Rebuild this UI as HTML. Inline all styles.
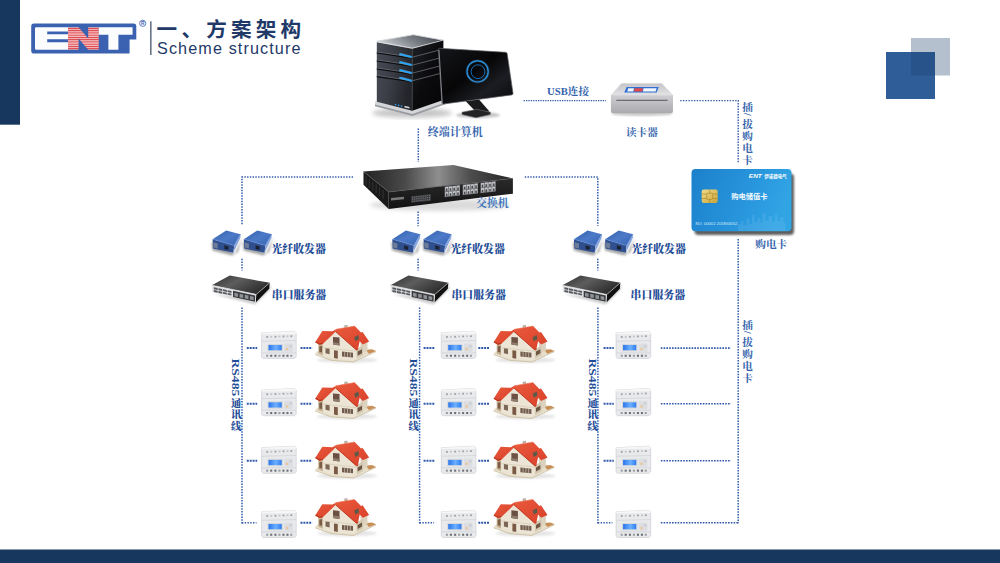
<!DOCTYPE html>
<html lang="zh">
<head>
<meta charset="utf-8">
<title>Scheme structure</title>
<style>
html,body{margin:0;padding:0;background:#fff;}
body{width:1000px;height:563px;overflow:hidden;font-family:"Liberation Sans",sans-serif;}
svg{display:block;}
</style>
</head>
<body>
<svg width="1000" height="563" viewBox="0 0 1000 563">
<defs>
<pattern id="stripes" x="0" y="27.25" width="4" height="2.25" patternUnits="userSpaceOnUse"><rect width="4" height="2.25" fill="#fdeeee"/><rect y="0.55" width="4" height="1.25" fill="#dc3a40"/></pattern>
<filter id="blur1" x="-20%" y="-20%" width="140%" height="140%"><feGaussianBlur stdDeviation="1.2"/></filter>
<filter id="blur2" x="-20%" y="-20%" width="140%" height="140%"><feGaussianBlur stdDeviation="2"/></filter>
<filter id="soft" x="-5%" y="-5%" width="110%" height="110%"><feGaussianBlur stdDeviation="0.35"/></filter>
<linearGradient id="twFront" x1="0" y1="0" x2="1" y2="0.3"><stop offset="0" stop-color="#4a4d56"/><stop offset="0.5" stop-color="#3a3d45"/><stop offset="1" stop-color="#23252a"/></linearGradient>
<linearGradient id="twSide" x1="0" y1="0" x2="1" y2="1"><stop offset="0" stop-color="#202227"/><stop offset="0.5" stop-color="#0b0b0d"/><stop offset="1" stop-color="#050506"/></linearGradient>
<linearGradient id="twTop" x1="0" y1="0.3" x2="1" y2="0"><stop offset="0" stop-color="#c6cacf"/><stop offset="0.45" stop-color="#7b8087"/><stop offset="1" stop-color="#3a3d42"/></linearGradient>
<linearGradient id="monG" x1="0" y1="0" x2="1" y2="1"><stop offset="0" stop-color="#15161a"/><stop offset="0.45" stop-color="#060607"/><stop offset="0.7" stop-color="#1c1d22"/><stop offset="1" stop-color="#08080a"/></linearGradient>
<linearGradient id="swTop" x1="0" y1="0" x2="1" y2="0"><stop offset="0" stop-color="#222223"/><stop offset="0.28" stop-color="#4a4a4b"/><stop offset="0.5" stop-color="#8e8e8f"/><stop offset="0.72" stop-color="#4c4c4d"/><stop offset="1" stop-color="#252526"/></linearGradient>
<linearGradient id="swFront" x1="0" y1="0" x2="0" y2="1"><stop offset="0" stop-color="#2a2a2b"/><stop offset="1" stop-color="#131314"/></linearGradient>
<linearGradient id="cardG" x1="0" y1="0" x2="1" y2="0.25"><stop offset="0" stop-color="#1c80cb"/><stop offset="0.6" stop-color="#2794dc"/><stop offset="1" stop-color="#31a4e4"/></linearGradient>
<linearGradient id="chipG" x1="0" y1="0" x2="1" y2="1"><stop offset="0" stop-color="#f0dc8a"/><stop offset="1" stop-color="#c9a238"/></linearGradient>
<linearGradient id="rdFront" x1="0" y1="0" x2="0" y2="1"><stop offset="0" stop-color="#cfcfd3"/><stop offset="1" stop-color="#a9a9ae"/></linearGradient>
<linearGradient id="rdTop" x1="0" y1="0" x2="0" y2="1"><stop offset="0" stop-color="#c4c4c8"/><stop offset="1" stop-color="#e4e4e7"/></linearGradient>
<linearGradient id="roofG" x1="0" y1="0" x2="1" y2="1"><stop offset="0" stop-color="#ea5a3c"/><stop offset="1" stop-color="#d8402a"/></linearGradient>
<linearGradient id="fbTop" x1="0" y1="0" x2="1" y2="1"><stop offset="0" stop-color="#345fa9"/><stop offset="0.5" stop-color="#4c7ac8"/><stop offset="1" stop-color="#3a66b3"/></linearGradient>
<linearGradient id="ssTop" x1="0" y1="0" x2="1" y2="0.6"><stop offset="0" stop-color="#2d2d2e"/><stop offset="0.45" stop-color="#5d5d5e"/><stop offset="1" stop-color="#2b2b2c"/></linearGradient>
<linearGradient id="lcdG" x1="0" y1="0" x2="1" y2="0"><stop offset="0" stop-color="#2a74ea"/><stop offset="0.55" stop-color="#6cb0ff"/><stop offset="1" stop-color="#2f7df0"/></linearGradient>

<g id="house"><ellipse cx="42" cy="42" rx="30" ry="3" fill="#999" opacity="0.25" filter="url(#blur1)"/><polygon points="10.2,36.0 26.0,41.8 48.5,43.6 71.0,33.0 63.0,30.5 12.0,33.5" fill="#e7dec9" /><polygon points="10.2,36.0 26.0,41.8 48.5,43.6 71.0,33.0 71.0,33.9 48.5,44.6 26.0,42.8 10.2,37.0" fill="#cfc3a8" /><polygon points="61.0,32.2 67.0,31.2 71.0,33.0 64.0,35.8" fill="#c78f56" /><polygon points="55.5,24.0 62.5,21.5 62.5,32.5 55.5,36.0" fill="#ddd2be" /><polygon points="13.3,25.5 18.0,24.0 18.0,37.4 13.3,35.4" fill="#c4b193" /><polygon points="14.3,28.4 17.0,27.8 17.0,34.6 14.3,34.0" fill="#7b5d47" /><polygon points="51.5,31.0 58.0,27.6 58.0,37.2 51.5,40.8" fill="#d3c8b2" /><polygon points="52.6,33.6 57.0,31.2 57.0,35.2 52.6,37.7" fill="#6e5645" /><polygon points="17.8,24.5 30.6,13.2 51.5,31.5 51.5,40.8 47.5,42.8 26.0,40.8 17.8,37.4" fill="#ece4d4" /><path d="M17.8 29.6 L51.5 33.2" stroke="#d2c6ae" stroke-width="0.6"/><polygon points="28.0,19.0 34.5,19.6 34.5,27.6 28.0,26.6" fill="#6a5143" /><polygon points="28.0,24.2 34.5,25.0 34.5,27.6 28.0,26.6" fill="#8e7b6c" /><polygon points="29.0,32.3 32.8,32.8 32.8,40.7 29.0,40.0" fill="#7a5a44" /><polygon points="20.5,30.2 24.6,30.8 24.6,36.2 20.5,35.2" fill="#7c6756" /><polygon points="37.0,33.6 48.0,34.8 48.0,39.4 37.0,38.4" fill="#6f5a4c" /><path d="M39.7 33.9 v4.7 M42.5 34.2 v4.7 M45.3 34.5 v4.7" stroke="#e6dccb" stroke-width="0.6"/><polygon points="39.3,7.2 42.6,6.9 42.6,9.4 39.3,10.0" fill="#b9b1a8" /><polygon points="10.2,24.2 17.3,12.9 27.5,13.3 30.6,11.4 30.8,13.4 18.0,25.8 14.6,26.8" fill="url(#roofG)" /><polygon points="10.2,24.2 14.6,26.8 18.0,25.8 17.4,24.6 14.4,25.4 11.0,23.2" fill="#b8361f" /><polygon points="30.6,11.3 49.7,8.1 56.0,14.6 57.6,14.0 64.1,23.6 57.8,26.4 54.7,23.2 52.9,31.6 51.2,31.9 30.4,13.5" fill="url(#roofG)" /><polygon points="49.2,19.2 53.4,17.0 54.0,21.2 50.4,23.2" fill="#5e5a4a" /><path d="M30.5 13.4 L51.4 31.9 L53 31.5" fill="none" stroke="#b8361f" stroke-width="0.9"/><path d="M30.6 11.4 L49.7 8.1" fill="none" stroke="#f07a5e" stroke-width="0.6"/></g>
<g id="meter"><g transform="translate(38.9 22.7) scale(1.055 1.09) translate(-38.7 -22.7)"><polygon points="22.3,11.6 53.3,10.2 55.1,11.6 55.1,33.6 53.6,35.1 23.6,35.1 22.3,33.9" fill="#e9eaec" stroke="#c9ccd0" stroke-width="0.6"/><polygon points="22.3,11.6 53.3,10.2 55.1,11.6 55.1,12.6 22.3,12.9" fill="#f6f6f7" /><path d="M22.6 19.4 L55 18.8 M22.6 30 L55 30" stroke="#cfd2d6" stroke-width="0.7"/><rect x="26.8" y="14.6" width="1.7" height="1.6" fill="#9a9ea3"/><rect x="26.6" y="31.7" width="2" height="1.9" fill="#9a9da1"/><rect x="30.6" y="14.5" width="1.7" height="1.6" fill="#bfc2c6"/><rect x="30.4" y="31.7" width="2" height="1.9" fill="#6d7074"/><rect x="34.6" y="14.4" width="1.7" height="1.6" fill="#9a9ea3"/><rect x="34.4" y="31.7" width="2" height="1.9" fill="#6d7074"/><rect x="38.4" y="14.2" width="1.7" height="1.6" fill="#bfc2c6"/><rect x="38.2" y="31.7" width="2" height="1.9" fill="#9a9da1"/><rect x="42.2" y="14.1" width="1.7" height="1.6" fill="#9a9ea3"/><rect x="42.0" y="31.7" width="2" height="1.9" fill="#6d7074"/><rect x="46.0" y="14.0" width="1.7" height="1.6" fill="#bfc2c6"/><rect x="45.8" y="31.7" width="2" height="1.9" fill="#6d7074"/><rect x="49.6" y="13.9" width="1.7" height="1.6" fill="#9a9ea3"/><rect x="49.4" y="31.7" width="2" height="1.9" fill="#9a9da1"/><rect x="27.9" y="21.8" width="14.6" height="6.8" fill="#d4d7db"/><rect x="28.9" y="22.8" width="12.5" height="4.8" fill="url(#lcdG)"/><rect x="43.6" y="21.4" width="8.4" height="7.6" rx="1" fill="#dcdee2"/><circle cx="46.4" cy="26.4" r="1.4" fill="#e9c9a4"/><circle cx="49.8" cy="24" r="1.2" fill="#c9ccd2"/></g></g>
<g id="fiber"><polygon points="6.5,20.0 30.0,31.5 37.0,15.0 33.0,30.0 27.0,33.5 7.5,28.5" fill="#555" opacity="0.55" filter="url(#blur1)"/><polygon points="7.6,17.2 21.2,8.4 35.6,12.2 29.2,23.6" fill="url(#fbTop)" /><polygon points="7.6,17.2 29.2,23.6 28.4,30.8 8.0,26.4" fill="#2f4f8f" /><polygon points="29.2,23.6 35.6,12.2 35.3,16.0 28.4,30.8" fill="#88a6dc" /><polygon points="8.4,20.3 12.8,21.6 12.6,26.6 8.4,25.4" fill="#6d7c98" /><polygon points="19.4,23.2 23.6,24.4 23.4,28.0 19.3,26.9" fill="#1c2333" /><path d="M7.6 17.2 L29.2 23.6 L35.6 12.2" fill="none" stroke="#6d94dc" stroke-width="0.5"/></g>
<g id="sserver"><polygon points="8.0,26.0 50.0,36.5 65.5,21.0 66.0,17.0 50.0,30.0" fill="#666" opacity="0.35" filter="url(#blur1)"/><polygon points="6.8,17.2 24.8,7.6 64.8,14.8 51.2,26.4" fill="url(#ssTop)" /><polygon points="51.2,26.4 64.8,14.8 64.2,20.8 50.8,34.4" fill="#121213" /><polygon points="6.8,17.2 51.2,26.4 50.8,34.4 7.2,24.0" fill="#e4e5e7" /><polygon points="8.8,19.3 12.7,20.1 12.7,22.0 8.8,21.2" fill="#55585c" /><polygon points="13.4,20.3 17.3,21.1 17.3,23.0 13.4,22.2" fill="#55585c" /><polygon points="18.0,21.2 21.9,22.0 21.9,23.9 18.0,23.1" fill="#55585c" /><polygon points="22.6,22.2 26.5,23.0 26.5,24.9 22.6,24.1" fill="#55585c" /><polygon points="8.8,22.0 12.7,22.8 12.7,24.7 8.8,23.9" fill="#55585c" /><polygon points="13.4,23.0 17.3,23.8 17.3,25.7 13.4,24.9" fill="#55585c" /><polygon points="18.0,23.9 21.9,24.7 21.9,26.6 18.0,25.8" fill="#55585c" /><polygon points="22.6,24.9 26.5,25.7 26.5,27.6 22.6,26.8" fill="#55585c" /><polygon points="28.0,22.8 50.2,27.4 50.0,33.8 28.0,29.0" fill="#3a3b3e" /><polygon points="29.4,24.7 33.0,25.4 33.0,29.0 29.4,28.3" fill="#8d9094" /><polygon points="34.6,25.8 38.2,26.5 38.2,30.1 34.6,29.4" fill="#8d9094" /><polygon points="39.8,26.8 43.4,27.6 43.4,31.2 39.8,30.4" fill="#8d9094" /><polygon points="45.0,27.9 48.6,28.7 48.6,32.3 45.0,31.5" fill="#8d9094" /><path d="M6.8 17.2 L51.2 26.4 L64.8 14.8" fill="none" stroke="#cfd0d2" stroke-width="0.6"/></g>
</defs>
<rect x="0" y="0" width="20" height="124.7" fill="#18375e"/>
<rect x="0" y="549.5" width="1000" height="13.5" fill="#18375e"/>
<rect x="911" y="38" width="39" height="37.5" fill="#b4c0ce"/>
<rect x="886" y="52" width="49" height="47" fill="#2f5d97"/>
<rect x="911" y="52" width="24" height="23.5" fill="#28528a"/>
<path d="M31.2 26.3 a2.8 2.8 0 0 1 2.8 -2.8 H133.6 a2.7 2.7 0 0 1 2.7 2.7 V39.6 H129.6 V53.6 H34 a2.8 2.8 0 0 1 -2.8 -2.8 Z" fill="#3b62b1"/>
<path d="M35 28.4 a1.2 1.2 0 0 1 1.2 -1.2 H68 V31.4 H47.2 V34.3 H68 V39.2 H47.2 V42.3 H68 V49.8 H36.4 a1.4 1.4 0 0 1 -1.4 -1.4 Z" fill="#fbfcfe"/>
<path d="M68 27.2 H78.6 L88.2 38.6 V27.2 H98.8 V49.8 H88.2 L78.6 38.4 V49.8 H68 Z" fill="url(#stripes)"/>
<path d="M98.8 27.2 H132.6 V34.8 H118.4 V49.8 H108.4 V34.8 H98.8 Z" fill="#fbfcfe"/>
<circle cx="142.7" cy="23.3" r="3.1" fill="none" stroke="#3b62b1" stroke-width="0.8"/>
<text x="142.75" y="25.1" text-anchor="middle" font-family="Liberation Sans, sans-serif" font-weight="bold" font-size="4.8" fill="#3b62b1">R</text>
<rect x="150.2" y="21.3" width="1.3" height="33.7" fill="#46546c"/>
<g aria-label="一、方案架构"><text x="156.6" y="36.6" font-family="'Liberation Sans','Noto Sans CJK SC',sans-serif" font-weight="bold" font-size="20.6" letter-spacing="4.2" fill="#1f3a68">一、方案架构</text></g>
<text x="157" y="53.6" font-family="Liberation Sans, sans-serif" font-size="16.2" fill="#1f3a68" textLength="143.5" lengthAdjust="spacing">Scheme structure</text>
<path d="M418.3 128.5 L418.3 162.0" fill="none" stroke="#3059a9" stroke-width="1.50" stroke-dasharray="1.4 1.35"/>
<path d="M523.6 100.6 L606.0 100.6" fill="none" stroke="#3059a9" stroke-width="1.20" stroke-dasharray="1.3 1.1"/>
<path d="M680.2 100.6 L738.2 100.6 L738.2 163.5" fill="none" stroke="#3059a9" stroke-width="1.40" stroke-dasharray="1.4 1.35"/>
<path d="M738.2 239.0 L738.2 523.3" fill="none" stroke="#3059a9" stroke-width="1.50" stroke-dasharray="1.4 1.35"/>
<path d="M353.0 177.0 L242.0 177.0 L242.0 225.5" fill="none" stroke="#3059a9" stroke-width="1.50" stroke-dasharray="1.4 1.35"/>
<path d="M524.8 177.0 L597.8 177.0 L597.8 225.8" fill="none" stroke="#3059a9" stroke-width="1.50" stroke-dasharray="1.4 1.35"/>
<path d="M418.1 211.5 L418.1 226.3" fill="none" stroke="#3059a9" stroke-width="1.50" stroke-dasharray="1.4 1.35"/>
<path d="M242.0 258.8 L242.0 270.6" fill="none" stroke="#3059a9" stroke-width="1.50" stroke-dasharray="1.4 1.35"/>
<path d="M242.0 307.6 L242.0 523.5" fill="none" stroke="#3059a9" stroke-width="1.50" stroke-dasharray="1.4 1.35"/>
<path d="M418.1 258.8 L418.1 270.6" fill="none" stroke="#3059a9" stroke-width="1.50" stroke-dasharray="1.4 1.35"/>
<path d="M419.6 307.6 L419.6 523.5" fill="none" stroke="#3059a9" stroke-width="1.50" stroke-dasharray="1.4 1.35"/>
<path d="M597.8 258.8 L597.8 270.6" fill="none" stroke="#3059a9" stroke-width="1.50" stroke-dasharray="1.4 1.35"/>
<path d="M597.9 307.6 L597.9 523.5" fill="none" stroke="#3059a9" stroke-width="1.50" stroke-dasharray="1.4 1.35"/>
<path d="M246.8 348.1 L257.2 348.1" fill="none" stroke="#3059a9" stroke-width="2.00" stroke-dasharray="2.0 0.9"/>
<path d="M423.6 348.1 L434.3 348.1" fill="none" stroke="#3059a9" stroke-width="2.00" stroke-dasharray="2.0 0.9"/>
<path d="M603.6 348.1 L613.8 348.1" fill="none" stroke="#3059a9" stroke-width="2.00" stroke-dasharray="2.0 0.9"/>
<path d="M300.5 348.1 L312.2 348.1" fill="none" stroke="#3059a9" stroke-width="2.00" stroke-dasharray="2.0 0.9"/>
<path d="M478.3 348.1 L489.6 348.1" fill="none" stroke="#3059a9" stroke-width="2.00" stroke-dasharray="2.0 0.9"/>
<path d="M660.8 348.1 L731.0 348.1" fill="none" stroke="#3059a9" stroke-width="1.60" stroke-dasharray="1.6 1.2"/>
<path d="M246.8 403.8 L257.2 403.8" fill="none" stroke="#3059a9" stroke-width="2.00" stroke-dasharray="2.0 0.9"/>
<path d="M423.6 403.8 L434.3 403.8" fill="none" stroke="#3059a9" stroke-width="2.00" stroke-dasharray="2.0 0.9"/>
<path d="M603.6 403.8 L613.8 403.8" fill="none" stroke="#3059a9" stroke-width="2.00" stroke-dasharray="2.0 0.9"/>
<path d="M300.5 403.8 L312.2 403.8" fill="none" stroke="#3059a9" stroke-width="2.00" stroke-dasharray="2.0 0.9"/>
<path d="M478.3 403.8 L489.6 403.8" fill="none" stroke="#3059a9" stroke-width="2.00" stroke-dasharray="2.0 0.9"/>
<path d="M660.8 403.8 L731.0 403.8" fill="none" stroke="#3059a9" stroke-width="1.60" stroke-dasharray="1.6 1.2"/>
<path d="M246.8 460.8 L257.2 460.8" fill="none" stroke="#3059a9" stroke-width="2.00" stroke-dasharray="2.0 0.9"/>
<path d="M423.6 460.8 L434.3 460.8" fill="none" stroke="#3059a9" stroke-width="2.00" stroke-dasharray="2.0 0.9"/>
<path d="M603.6 460.8 L613.8 460.8" fill="none" stroke="#3059a9" stroke-width="2.00" stroke-dasharray="2.0 0.9"/>
<path d="M300.5 460.8 L312.2 460.8" fill="none" stroke="#3059a9" stroke-width="2.00" stroke-dasharray="2.0 0.9"/>
<path d="M478.3 460.8 L489.6 460.8" fill="none" stroke="#3059a9" stroke-width="2.00" stroke-dasharray="2.0 0.9"/>
<path d="M660.8 460.8 L731.0 460.8" fill="none" stroke="#3059a9" stroke-width="1.60" stroke-dasharray="1.6 1.2"/>
<path d="M300.5 522.8 L312.2 522.8" fill="none" stroke="#3059a9" stroke-width="2.00" stroke-dasharray="2.0 0.9"/>
<path d="M478.3 522.8 L489.6 522.8" fill="none" stroke="#3059a9" stroke-width="2.00" stroke-dasharray="2.0 0.9"/>
<path d="M660.8 522.8 L738.2 522.8" fill="none" stroke="#3059a9" stroke-width="1.60" stroke-dasharray="1.6 1.2"/>
<path d="M242.0 522.8 L256.5 522.8" fill="none" stroke="#3059a9" stroke-width="1.60" stroke-dasharray="1.4 1.35"/>
<path d="M419.6 522.8 L434.1 522.8" fill="none" stroke="#3059a9" stroke-width="1.60" stroke-dasharray="1.4 1.35"/>
<path d="M597.9 522.8 L612.4 522.8" fill="none" stroke="#3059a9" stroke-width="1.60" stroke-dasharray="1.4 1.35"/>
<g id="computer"><ellipse cx="412" cy="113" rx="40" ry="5" fill="#9a9a9a" opacity="0.55" filter="url(#blur2)"/><ellipse cx="478" cy="115" rx="22" ry="3" fill="#8a8a8a" opacity="0.5" filter="url(#blur1)"/><polygon points="375.0,101.3 412.4,110.6 445.2,99.6 445.2,104.2 412.4,116.0 375.0,106.2" fill="#d3d5d9" /><polygon points="375.0,104.4 412.4,114.0 445.2,102.6 445.2,104.2 412.4,116.0 375.0,106.2" fill="#9a9ca2" /><polygon points="376.8,41.3 413.3,34.7 443.4,40.2 412.2,48.2" fill="url(#twTop)" stroke="#d2d5d9" stroke-width="0.9" stroke-linejoin="round"/><polygon points="376.8,42.2 412.2,48.8 412.2,110.8 376.8,101.8" fill="url(#twFront)" /><polygon points="412.2,48.8 443.4,40.6 443.4,100.0 412.2,110.8" fill="url(#twSide)" /><path d="M376.8 52.0 L412.2 57.2 L443.4 49.0" fill="none" stroke="#6a6d75" stroke-width="0.8"/><path d="M376.8 53.0 L412.2 58.2" fill="none" stroke="#08090a" stroke-width="1.1"/><path d="M399.3 54.0 L412.2 57.3" stroke="#7fd4ff" stroke-width="2.6" opacity="0.45" filter="url(#soft)"/><path d="M399.5 54.0 L412.2 57.3" stroke="#27a6ff" stroke-width="1.5"/><path d="M376.8 60.0 L412.2 65.2 L443.4 57.0" fill="none" stroke="#6a6d75" stroke-width="0.8"/><path d="M376.8 61.0 L412.2 66.2" fill="none" stroke="#08090a" stroke-width="1.1"/><path d="M399.3 62.0 L412.2 65.3" stroke="#7fd4ff" stroke-width="2.6" opacity="0.45" filter="url(#soft)"/><path d="M399.5 62.0 L412.2 65.3" stroke="#27a6ff" stroke-width="1.5"/><path d="M376.8 68.0 L412.2 73.2 L443.4 65.0" fill="none" stroke="#6a6d75" stroke-width="0.8"/><path d="M376.8 69.0 L412.2 74.2" fill="none" stroke="#08090a" stroke-width="1.1"/><path d="M399.3 70.0 L412.2 73.3" stroke="#7fd4ff" stroke-width="2.6" opacity="0.45" filter="url(#soft)"/><path d="M399.5 70.0 L412.2 73.3" stroke="#27a6ff" stroke-width="1.5"/><path d="M376.8 75.6 L412.2 80.8 L443.4 72.6" fill="none" stroke="#6a6d75" stroke-width="0.8"/><path d="M376.8 76.6 L412.2 81.8" fill="none" stroke="#08090a" stroke-width="1.1"/><path d="M399.3 77.6 L412.2 80.9" stroke="#7fd4ff" stroke-width="2.6" opacity="0.45" filter="url(#soft)"/><path d="M399.5 77.6 L412.2 80.9" stroke="#27a6ff" stroke-width="1.5"/><circle cx="395.6" cy="104.6" r="0.8" fill="#2ea0ff"/><circle cx="398.6" cy="105.4" r="0.8" fill="#2ea0ff"/><circle cx="401.6" cy="106.1" r="0.8" fill="#2ea0ff"/><polygon points="404.5,105.8 409.5,107.0 409.5,108.6 404.5,107.4" fill="#d8dadd" /><path d="M412.2 48.8 V110.8" stroke="#3a3d44" stroke-width="0.7"/><polygon points="465.5,101.0 479.0,99.5 489.5,111.5 477.5,113.5" fill="#1b1b1d" /><polygon points="462.0,112.2 477.0,109.3 490.5,112.3 490.3,114.6 476.0,117.8 462.0,114.5" fill="#232325" stroke="#6d6f73" stroke-width="0.6"/><path d="M439.6 48.3 L505.6 52.3 Q507 52.4 507.2 53.8 L513 93.2 Q513.2 94.7 511.7 94.9 L443.6 104 Q442 104.2 441.9 102.6 L438.3 49.8 Q438.2 48.2 439.6 48.3 Z" fill="url(#monG)" stroke="#5f6166" stroke-width="0.7"/><path d="M439 50 L442.3 103.6" stroke="#9a9da2" stroke-width="1" opacity="0.8"/><circle cx="477.6" cy="71.4" r="10.6" fill="none" stroke="#1d86da" stroke-width="1.15"/><circle cx="477.6" cy="71.4" r="10.6" fill="none" stroke="#5cc0ff" stroke-width="2.6" opacity="0.22" filter="url(#soft)"/><circle cx="478" cy="71.7" r="6.9" fill="none" stroke="#176fbd" stroke-width="0.95"/></g>
<g id="switch"><ellipse cx="440" cy="205" rx="70" ry="6" fill="#999" opacity="0.35" filter="url(#blur2)"/><polygon points="363.5,171.6 453.5,164.9 512.9,178.4 388.7,191.9" fill="url(#swTop)" /><polygon points="363.5,171.6 388.7,191.9 388.7,209.0 363.5,184.7" fill="#1a1a1b" /><polygon points="388.7,191.9 512.9,178.4 512.9,193.7 388.7,209.0" fill="url(#swFront)" /><path d="M363.5 171.6 L388.7 191.9 L512.9 178.4" fill="none" stroke="#5a5a5c" stroke-width="0.6"/><path d="M366.0 176.2 v9" stroke="#353536" stroke-width="0.9"/><path d="M369.4 178.9 v9" stroke="#353536" stroke-width="0.9"/><path d="M372.8 181.7 v9" stroke="#353536" stroke-width="0.9"/><path d="M376.2 184.4 v9" stroke="#353536" stroke-width="0.9"/><path d="M379.6 187.2 v9" stroke="#353536" stroke-width="0.9"/><path d="M383.0 189.9 v9" stroke="#353536" stroke-width="0.9"/><polygon points="444.6,186.6 460.0,184.9 460.0,195.5 444.6,197.2" fill="#6e7073" /><polygon points="445.2,187.1 448.2,186.8 448.2,191.0 445.2,191.3" fill="#c4c6c9" /><polygon points="445.9,188.6 447.5,188.5 447.5,191.1 445.9,191.2" fill="#4a4c50" /><polygon points="449.0,186.7 452.0,186.4 452.0,190.6 449.0,190.9" fill="#c4c6c9" /><polygon points="449.7,188.2 451.3,188.1 451.3,190.7 449.7,190.8" fill="#4a4c50" /><polygon points="452.7,186.3 455.7,186.0 455.7,190.2 452.7,190.5" fill="#c4c6c9" /><polygon points="453.4,187.8 455.0,187.7 455.0,190.3 453.4,190.4" fill="#4a4c50" /><polygon points="456.5,185.9 459.5,185.6 459.5,189.8 456.5,190.1" fill="#c4c6c9" /><polygon points="457.2,187.4 458.8,187.3 458.8,189.9 457.2,190.0" fill="#4a4c50" /><polygon points="445.2,192.2 448.2,191.9 448.2,196.1 445.2,196.4" fill="#c4c6c9" /><polygon points="445.9,193.7 447.5,193.6 447.5,196.2 445.9,196.3" fill="#4a4c50" /><polygon points="449.0,191.8 452.0,191.5 452.0,195.7 449.0,196.0" fill="#c4c6c9" /><polygon points="449.7,193.3 451.3,193.2 451.3,195.8 449.7,195.9" fill="#4a4c50" /><polygon points="452.7,191.4 455.7,191.1 455.7,195.3 452.7,195.6" fill="#c4c6c9" /><polygon points="453.4,192.9 455.0,192.8 455.0,195.4 453.4,195.5" fill="#4a4c50" /><polygon points="456.5,191.0 459.5,190.7 459.5,194.9 456.5,195.2" fill="#c4c6c9" /><polygon points="457.2,192.5 458.8,192.4 458.8,195.0 457.2,195.1" fill="#4a4c50" /><polygon points="462.6,184.6 478.0,183.0 478.0,193.6 462.6,195.2" fill="#6e7073" /><polygon points="463.2,185.2 466.2,184.8 466.2,189.0 463.2,189.4" fill="#c4c6c9" /><polygon points="463.9,186.7 465.5,186.5 465.5,189.1 463.9,189.3" fill="#4a4c50" /><polygon points="467.0,184.8 470.0,184.4 470.0,188.6 467.0,189.0" fill="#c4c6c9" /><polygon points="467.7,186.3 469.3,186.1 469.3,188.7 467.7,188.9" fill="#4a4c50" /><polygon points="470.7,184.4 473.7,184.0 473.7,188.2 470.7,188.6" fill="#c4c6c9" /><polygon points="471.4,185.9 473.0,185.7 473.0,188.3 471.4,188.5" fill="#4a4c50" /><polygon points="474.5,183.9 477.5,183.6 477.5,187.8 474.5,188.1" fill="#c4c6c9" /><polygon points="475.2,185.5 476.8,185.3 476.8,187.9 475.2,188.1" fill="#4a4c50" /><polygon points="463.2,190.3 466.2,189.9 466.2,194.1 463.2,194.5" fill="#c4c6c9" /><polygon points="463.9,191.8 465.5,191.6 465.5,194.2 463.9,194.4" fill="#4a4c50" /><polygon points="467.0,189.9 470.0,189.5 470.0,193.7 467.0,194.1" fill="#c4c6c9" /><polygon points="467.7,191.4 469.3,191.2 469.3,193.8 467.7,194.0" fill="#4a4c50" /><polygon points="470.7,189.5 473.7,189.1 473.7,193.3 470.7,193.7" fill="#c4c6c9" /><polygon points="471.4,191.0 473.0,190.8 473.0,193.4 471.4,193.6" fill="#4a4c50" /><polygon points="474.5,189.0 477.5,188.7 477.5,192.9 474.5,193.2" fill="#c4c6c9" /><polygon points="475.2,190.6 476.8,190.4 476.8,193.0 475.2,193.2" fill="#4a4c50" /><polygon points="480.4,182.7 495.8,181.0 495.8,191.6 480.4,193.3" fill="#6e7073" /><polygon points="481.0,183.2 484.0,182.9 484.0,187.1 481.0,187.4" fill="#c4c6c9" /><polygon points="481.7,184.8 483.3,184.6 483.3,187.2 481.7,187.4" fill="#4a4c50" /><polygon points="484.8,182.8 487.8,182.5 487.8,186.7 484.8,187.0" fill="#c4c6c9" /><polygon points="485.4,184.3 487.1,184.2 487.1,186.8 485.4,186.9" fill="#4a4c50" /><polygon points="488.5,182.4 491.5,182.1 491.5,186.3 488.5,186.6" fill="#c4c6c9" /><polygon points="489.2,183.9 490.8,183.8 490.8,186.4 489.2,186.5" fill="#4a4c50" /><polygon points="492.2,182.0 495.2,181.7 495.2,185.9 492.2,186.2" fill="#c4c6c9" /><polygon points="492.9,183.5 494.6,183.4 494.6,186.0 492.9,186.1" fill="#4a4c50" /><polygon points="481.0,188.3 484.0,188.0 484.0,192.2 481.0,192.5" fill="#c4c6c9" /><polygon points="481.7,189.9 483.3,189.7 483.3,192.3 481.7,192.5" fill="#4a4c50" /><polygon points="484.8,187.9 487.8,187.6 487.8,191.8 484.8,192.1" fill="#c4c6c9" /><polygon points="485.4,189.4 487.1,189.3 487.1,191.9 485.4,192.0" fill="#4a4c50" /><polygon points="488.5,187.5 491.5,187.2 491.5,191.4 488.5,191.7" fill="#c4c6c9" /><polygon points="489.2,189.0 490.8,188.9 490.8,191.5 489.2,191.6" fill="#4a4c50" /><polygon points="492.2,187.1 495.2,186.8 495.2,191.0 492.2,191.3" fill="#c4c6c9" /><polygon points="492.9,188.6 494.6,188.5 494.6,191.1 492.9,191.2" fill="#4a4c50" /><polygon points="391.0,198.1 404.0,196.7 404.0,199.2 391.0,200.6" fill="#c8c8ca" opacity="0.55"/><polygon points="411.2,196.2 431.0,194.1 431.0,200.7 411.2,202.8" fill="#3b3d40" /><path d="M412 197.3 L430.3 195.3" stroke="#8c8e91" stroke-width="0.7" stroke-dasharray="1 0.9"/><path d="M412 199.4 L430.3 197.4" stroke="#8c8e91" stroke-width="0.7" stroke-dasharray="1 0.9"/><path d="M412 201.5 L430.3 199.5" stroke="#8c8e91" stroke-width="0.7" stroke-dasharray="1 0.9"/></g>
<g id="reader"><ellipse cx="642" cy="113.5" rx="31" ry="2.5" fill="#888" opacity="0.45" filter="url(#blur1)"/><polygon points="621.5,83.4 661.8,83.4 673.0,95.4 610.9,95.4" fill="url(#rdTop)" stroke="#d9d9dc" stroke-width="0.6"/><path d="M610.9 95.2 H673 V110.8 Q673 113.3 670.5 113.3 H613.4 Q610.9 113.3 610.9 110.8 Z" fill="url(#rdFront)"/><path d="M616.3 100.3 H667.6" stroke="#4c4c50" stroke-width="0.9"/><polygon points="626.6,87.0 658.8,87.0 656.6,92.6 624.2,92.6" fill="#2f6fd6" /><polygon points="628.2,88.2 634.0,88.2 633.3,91.4 627.3,91.4" fill="#f3f6fb" /><polygon points="634.6,88.2 643.0,88.2 642.3,91.4 633.9,91.4" fill="#e24a4a" /><polygon points="643.6,88.2 656.6,88.2 655.6,91.4 642.9,91.4" fill="#f3f6fb" /></g>
<g id="iccard"><rect x="694.5" y="173.5" width="99.5" height="61.5" rx="4" fill="#1a1a1a" opacity="0.7" filter="url(#blur1)"/><rect x="691.5" y="169" width="100" height="62.2" rx="4" fill="url(#cardG)"/><path d="M738 231 V224 h3 v-3 h2.5 v4 h3 v-6 h3 v5 h2.5 v-9 h2.5 v7 h3 v-4 h3 v5 h2 v-10 h3 v8 h3 v-5 h3.5 v6 h3 v-8 h2.5 v7 h3 v-4 h3 v6 h2 V231 Z" fill="#7cc6f2" opacity="0.22"/><rect x="701.7" y="189.5" width="16" height="13.6" rx="2" fill="url(#chipG)"/><path d="M701.7 194 h5 M701.7 198.5 h5 M717.7 194 h-5 M717.7 198.5 h-5 M709.7 189.5 v4 M709.7 203.1 v-4" stroke="#a88524" stroke-width="0.6" fill="none"/><rect x="706.7" y="193.2" width="6" height="6.2" rx="1" fill="none" stroke="#a88524" stroke-width="0.6"/></g>
<use href="#fiber" x="205.0" y="222"/>
<use href="#fiber" x="236.2" y="222"/>
<use href="#fiber" x="384.7" y="222"/>
<use href="#fiber" x="415.9" y="222"/>
<use href="#fiber" x="566.3" y="222"/>
<use href="#fiber" x="597.5" y="222"/>
<use href="#sserver" x="205.0" y="268"/>
<use href="#sserver" x="383.6" y="268"/>
<use href="#sserver" x="555.6" y="268"/>
<use href="#meter" x="240.0" y="322.2"/>
<use href="#meter" x="240.0" y="379.5"/>
<use href="#meter" x="240.0" y="437.1"/>
<use href="#meter" x="240.0" y="501.2"/>
<use href="#meter" x="419.7" y="322.2"/>
<use href="#meter" x="419.7" y="379.5"/>
<use href="#meter" x="419.7" y="437.1"/>
<use href="#meter" x="419.7" y="501.2"/>
<use href="#meter" x="594.5" y="322.2"/>
<use href="#meter" x="594.5" y="379.5"/>
<use href="#meter" x="594.5" y="437.1"/>
<use href="#meter" x="594.5" y="501.2"/>
<use href="#house" x="305.0" y="318.0"/>
<use href="#house" x="305.0" y="374.5"/>
<use href="#house" x="305.0" y="433.9"/>
<use href="#house" x="305.0" y="491.3"/>
<use href="#house" x="483.4" y="318.0"/>
<use href="#house" x="483.4" y="374.5"/>
<use href="#house" x="483.4" y="433.9"/>
<use href="#house" x="483.4" y="491.3"/>
<g aria-label="终端计算机"><text x="427.8" y="136.1" font-family="'Liberation Serif','Noto Serif CJK SC',serif" font-weight="bold" font-size="11" fill="#3464ad">终端计算机</text></g>
<g aria-label="USB连接"><text x="547" y="95.3" font-family="'Liberation Serif','Noto Serif CJK SC',serif" font-weight="bold" font-size="10.7" fill="#3464ad">USB连接</text></g>
<g aria-label="读卡器"><text x="626" y="135.8" font-family="'Liberation Serif','Noto Serif CJK SC',serif" font-weight="bold" font-size="10.6" fill="#3464ad">读卡器</text></g>
<g aria-label="交换机"><text x="476" y="206.8" font-family="'Liberation Serif','Noto Serif CJK SC',serif" font-weight="bold" font-size="10.9" fill="#4076be">交换机</text></g>
<g aria-label="购电卡"><text x="755.2" y="247.5" font-family="'Liberation Serif','Noto Serif CJK SC',serif" font-weight="bold" font-size="10.7" fill="#3464ad">购电卡</text></g>
<g aria-label="光纤收发器"><text x="271.4" y="252.9" font-family="'Liberation Serif','Noto Serif CJK SC',serif" font-weight="900" font-size="10.9" fill="#1f4d97">光纤收发器</text></g>
<g aria-label="光纤收发器"><text x="450.4" y="252.9" font-family="'Liberation Serif','Noto Serif CJK SC',serif" font-weight="900" font-size="10.9" fill="#1f4d97">光纤收发器</text></g>
<g aria-label="光纤收发器"><text x="631.4" y="252.9" font-family="'Liberation Serif','Noto Serif CJK SC',serif" font-weight="900" font-size="10.9" fill="#1f4d97">光纤收发器</text></g>
<g aria-label="串口服务器"><text x="271.8" y="298.8" font-family="'Liberation Serif','Noto Serif CJK SC',serif" font-weight="900" font-size="10.9" fill="#1f4d97">串口服务器</text></g>
<g aria-label="串口服务器"><text x="451.4" y="298.8" font-family="'Liberation Serif','Noto Serif CJK SC',serif" font-weight="900" font-size="10.9" fill="#1f4d97">串口服务器</text></g>
<g aria-label="串口服务器"><text x="630.6" y="298.8" font-family="'Liberation Serif','Noto Serif CJK SC',serif" font-weight="900" font-size="10.9" fill="#1f4d97">串口服务器</text></g>
<g aria-label="插/拔购电卡"><g fill="#3464ad" font-family="'Liberation Serif','Noto Serif CJK SC',serif" font-weight="bold"><text font-size="10.6" x="742.3 742.3 742.3 742.3 742.3" y="110.77 128.27 140.17 152.07 163.97">插拔购电卡</text><text transform="translate(743.87 112.72) rotate(90)" font-size="10.6">/</text></g></g>
<g aria-label="插/拔购电卡"><g fill="#3464ad" font-family="'Liberation Serif','Noto Serif CJK SC',serif" font-weight="bold"><text font-size="10.6" x="742.3 742.3 742.3 742.3 742.3" y="328.87 346.37 358.27 370.17 382.07">插拔购电卡</text><text transform="translate(743.87 330.82) rotate(90)" font-size="10.6">/</text></g></g>
<g aria-label="RS485通讯线"><g fill="#1f4d97" font-family="'Liberation Serif','Noto Serif CJK SC',serif" font-weight="900"><text transform="translate(232.33 358.45) rotate(90)" font-size="11.4" font-weight="bold" textLength="37.8" lengthAdjust="spacingAndGlyphs">RS485</text><text font-size="10.4" x="231.04 231.04 231.04" y="406.52 418.02 429.52">通讯线</text></g></g>
<g aria-label="RS485通讯线"><g fill="#1f4d97" font-family="'Liberation Serif','Noto Serif CJK SC',serif" font-weight="900"><text transform="translate(409.83 358.45) rotate(90)" font-size="11.4" font-weight="bold" textLength="37.8" lengthAdjust="spacingAndGlyphs">RS485</text><text font-size="10.4" x="408.54 408.54 408.54" y="406.52 418.02 429.52">通讯线</text></g></g>
<g aria-label="RS485通讯线"><g fill="#1f4d97" font-family="'Liberation Serif','Noto Serif CJK SC',serif" font-weight="900"><text transform="translate(588.83 358.45) rotate(90)" font-size="11.4" font-weight="bold" textLength="37.8" lengthAdjust="spacingAndGlyphs">RS485</text><text font-size="10.4" x="587.54 587.54 587.54" y="406.52 418.02 429.52">通讯线</text></g></g>
<text x="731.2" y="199.4" font-family="'Liberation Sans','Noto Sans CJK SC',sans-serif" font-weight="bold" font-size="7.3" fill="#f4faff">购电储值卡</text>
<text x="748.8" y="177.8" font-family="Liberation Sans, sans-serif" font-weight="bold" font-style="italic" font-size="4.6" fill="#fff" textLength="13" lengthAdjust="spacingAndGlyphs">ENT</text>
<text x="764.2" y="177.8" font-family="'Liberation Sans','Noto Sans CJK SC',sans-serif" font-weight="bold" font-size="4.5" fill="#ffffff">伊诺德电气</text>
<text x="695.4" y="224.8" font-family="Liberation Sans, sans-serif" font-size="3.8" fill="#d6ecfb" textLength="42" lengthAdjust="spacingAndGlyphs">NO. 00002  2018/06/02</text>
</svg>
</body>
</html>
